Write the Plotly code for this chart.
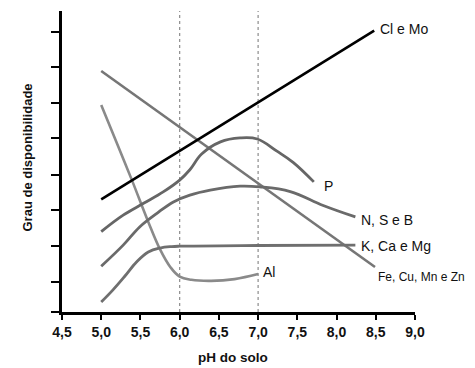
import plotly.graph_objects as go

# ---- data ----
cl_x = [5.0, 8.48]
cl_y = [3.15, 7.87]

fe_x = [5.0, 8.49]
fe_y = [6.74, 1.26]

al_x = [5.0, 5.2, 5.4, 5.6, 5.75, 5.88, 6.0, 6.15, 6.4, 6.7, 7.0]
al_y = [5.79, 4.72, 3.64, 2.52, 1.75, 1.26, 0.99, 0.90, 0.87, 0.92, 1.06]

p_x = [5.0, 5.28, 5.54, 5.79, 6.0, 6.13, 6.28, 6.52, 6.77, 6.99, 7.24, 7.45, 7.71]
p_y = [2.25, 2.71, 3.04, 3.36, 3.69, 3.98, 4.42, 4.76, 4.87, 4.84, 4.50, 4.18, 3.64]

n_x = [5.0, 5.28, 5.49, 5.71, 5.92, 6.13, 6.39, 6.77, 7.02, 7.41, 7.83, 8.24]
n_y = [1.28, 1.87, 2.38, 2.76, 3.08, 3.27, 3.41, 3.52, 3.50, 3.37, 2.98, 2.66]

k_x = [5.0, 5.15, 5.3, 5.45, 5.6, 5.75, 5.9, 6.0, 7.0, 8.24]
k_y = [0.28, 0.62, 1.0, 1.40, 1.68, 1.79, 1.83, 1.84, 1.86, 1.87]

x_ticks = [4.5, 5.0, 5.5, 6.0, 6.5, 7.0, 7.5, 8.0, 8.5, 9.0]
x_tick_labels = ["4,5", "5,0", "5,5", "6,0", "6,5", "7,0", "7,5", "8,0", "8,5", "9,0"]
y_ticks = [0, 0.84, 1.84, 2.84, 3.84, 4.86, 5.86, 6.86, 7.84]
ref_ph = [6.0, 7.0]

FONT = "Liberation Sans, Arial, sans-serif"

series = [
    # name, x, y, color, width, shape, xshift, yshift, size
    ("Fe, Cu, Mn e Zn", fe_x, fe_y, "#767676", 2.6, "linear", 1, -10, 12),
    ("Al", al_x, al_y, "#8a8a8a", 2.6, "spline", 3, 2, 14),
    ("K, Ca e Mg", k_x, k_y, "#6f6f6f", 2.8, "spline", 4, -1, 14),
    ("N, S e B", n_x, n_y, "#6a6a6a", 2.8, "spline", 4, -3, 14),
    ("P", p_x, p_y, "#666666", 2.8, "spline", 8, -4, 14),
    ("Cl e Mo", cl_x, cl_y, "#000000", 2.6, "linear", 4, 2, 14),
]

fig = go.Figure()

for xv in ref_ph:
    fig.add_trace(go.Scatter(
        x=[xv, xv], y=[0, 8.45], mode="lines",
        line=dict(color="#8c8c8c", width=1.2, dash="dot"),
        hoverinfo="skip", showlegend=False))

annotations = []
for name, xs, ys, col, w, shape, xs_, ys_, fs in series:
    fig.add_trace(go.Scatter(
        x=xs, y=ys, mode="lines", name=name,
        line=dict(color=col, width=w, shape=shape, smoothing=1.1),
        showlegend=False))
    annotations.append(dict(
        x=xs[-1], y=ys[-1], xref="x", yref="y", text=name,
        showarrow=False, xanchor="left", yanchor="middle",
        xshift=xs_, yshift=ys_,
        font=dict(family=FONT, size=fs, color="#111111")))

annotations.append(dict(
    x=0, y=0.5, xref="paper", yref="paper", text="<b>Grau de disponibilidade</b>",
    showarrow=False, textangle=-90, xanchor="center", yanchor="middle",
    xshift=-35, yshift=4, font=dict(family=FONT, size=13, color="#111111")))
annotations.append(dict(
    x=0.5, y=0, xref="paper", yref="paper", text="<b>pH do solo</b>",
    showarrow=False, xanchor="center", yanchor="middle",
    xshift=-6, yshift=-45, font=dict(family=FONT, size=13.5, color="#111111")))

# the page body adds an 8px offset; the figure is sized to fill the rest
fig.update_layout(
    width=467, height=360,
    margin=dict(l=54, r=60, t=3, b=56, pad=0),
    paper_bgcolor="white", plot_bgcolor="white",
    font=dict(family=FONT, color="#111111"),
    annotations=annotations,
    xaxis=dict(
        range=[4.5, 9.0], tickvals=x_ticks,
        ticktext=["<b>%s</b>" % t for t in x_tick_labels],
        tickfont=dict(family=FONT, size=14, color="#111111"),
        showgrid=False, zeroline=False, showline=True, linecolor="black",
        linewidth=3, ticks="outside", ticklen=5, tickwidth=2, tickcolor="black"),
    yaxis=dict(
        range=[0, 8.42], tickvals=y_ticks, showticklabels=False,
        showgrid=False, zeroline=False, showline=True, linecolor="black",
        linewidth=3, ticks="outside", ticklen=8, tickwidth=2, tickcolor="black"),
)

fig.write_html("out.html")
